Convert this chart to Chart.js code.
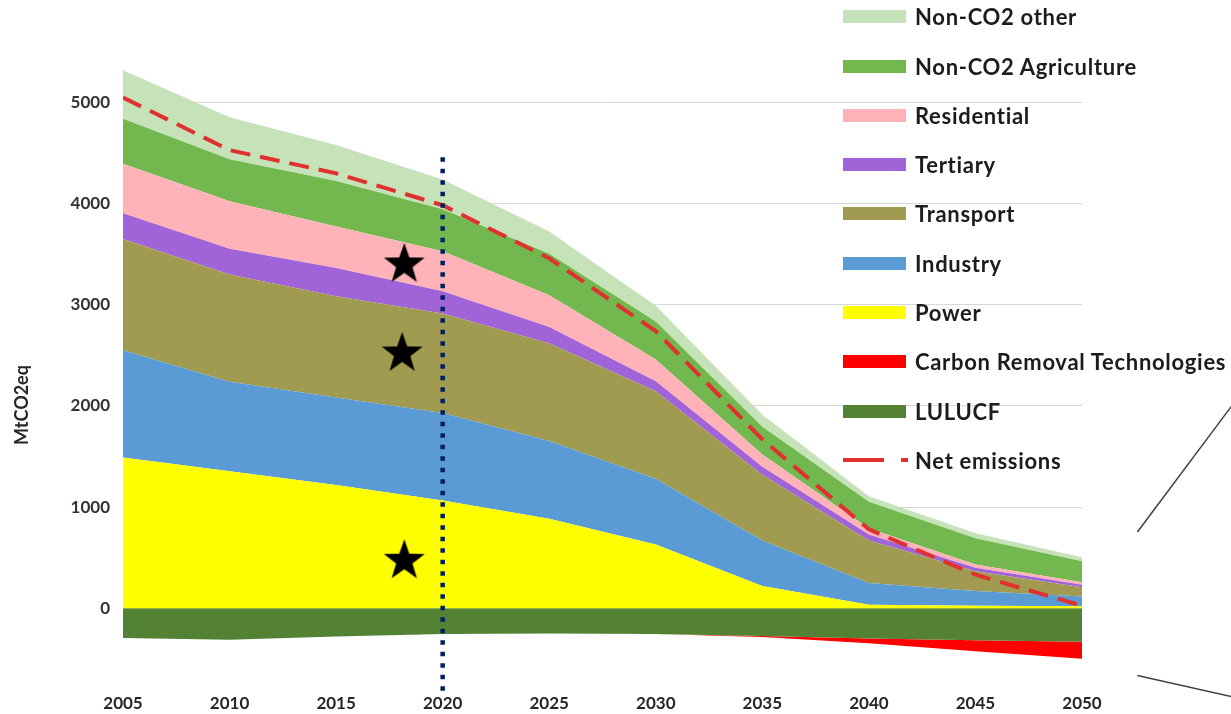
<!DOCTYPE html>
<html><head><meta charset="utf-8">
<script src="https://cdn.jsdelivr.net/npm/chart.js@4/dist/chart.umd.min.js"></script>
<style>
html,body{margin:0;padding:0;background:#fff;}
#wrap{position:relative;width:1231px;height:714px;overflow:hidden;}
#c{position:absolute;left:0;top:0;}
#legend{position:absolute;left:843px;top:0;width:388px;height:480px;font-family:Lato,"Open Sans",sans-serif;font-weight:700;font-size:22px;letter-spacing:0.7px;color:#1c1c1c;}
.row{position:absolute;left:0;height:26px;display:flex;align-items:center;white-space:nowrap;}
.sw{width:63px;height:13px;margin-right:9px;flex:none;}
.dash{width:63px;height:26px;margin-right:9px;position:relative;flex:none;}
.dash i{position:absolute;top:11px;height:4px;background:#e03030;}
</style></head>
<body><div id="wrap"><canvas id="c" width="1231" height="714"></canvas><div id="legend"></div></div>
<script>
// ---- data (MtCO2eq) ----
const years = [2005, 2010, 2015, 2020, 2025, 2030, 2035, 2040, 2045, 2050];
const power        = [1490, 1355, 1220, 1065, 885, 630, 220, 35, 25, 20];
const industry     = [1060, 885, 865, 865, 770, 650, 450, 215, 145, 97];
const transport    = [1100, 1060, 1000, 985, 965, 865, 650, 420, 195, 90];
const tertiary     = [255, 255, 280, 220, 160, 100, 80, 60, 35, 25];
const residential  = [490, 470, 410, 395, 315, 215, 120, 60, 32, 25];
const agriculture  = [445, 415, 450, 415, 410, 375, 275, 263, 260, 207];
const otherNonCO2  = [480, 415, 355, 295, 220, 157, 118, 55, 50, 40];
const lulucf       = [-295, -310, -280, -255, -250, -255, -275, -300, -315, -330];
const carbonRemoval= [0, 0, 0, 0, 0, 0, -10, -45, -110, -170];
const netEmissions = [5050, 4530, 4300, 3985, 3460, 2740, 1670, 780, 332, 25];
const yTickLabels  = [0, 1000, 2000, 3000, 4000, 5000];
const xTickLabels  = ['2005','2010','2015','2020','2025','2030','2035','2040','2045','2050'];
// annotations
const refYear = 2020;
const refLineY = [4460, -820];
const starX = [2018.2, 2018.1, 2018.2];
const starY = [3410, 2530, 480];
const connectorUpperX = [2052.6, 2057.0];
const connectorUpperY = [754, 1994];
const connectorLowerX = [2052.6, 2057.0];
const connectorLowerY = [-665, -873];

const FONT = 'Lato, "Open Sans", sans-serif';
const pts = arr => years.map((y, i) => ({x: y, y: arr[i]}));
const pair = (xs, ys) => xs.map((x, i) => ({x: x, y: ys[i]}));

const series = [
  {label:'Power', data: power, color:'#ffff00'},
  {label:'Industry', data: industry, color:'#5b9bd5'},
  {label:'Transport', data: transport, color:'#a09b50'},
  {label:'Tertiary', data: tertiary, color:'#a064d8'},
  {label:'Residential', data: residential, color:'#ffb3b8'},
  {label:'Non-CO2 Agriculture', data: agriculture, color:'#72b84e'},
  {label:'Non-CO2 other', data: otherNonCO2, color:'#c5e2b8'}
];

const datasets = [];
series.forEach((s, i) => {
  datasets.push({label: s.label, data: pts(s.data), stack:'pos', order: 10,
    backgroundColor: s.color, borderWidth: 0, pointRadius: 0, tension: 0,
    fill: i === 0 ? 'origin' : '-1'});
});
datasets.push({label:'LULUCF', data: pts(lulucf), stack:'neg', order: 10,
  backgroundColor:'#548235', borderWidth:0, pointRadius:0, tension:0, fill:'origin'});
datasets.push({label:'Carbon Removal Technologies', data: pts(carbonRemoval), stack:'neg', order: 10,
  backgroundColor:'#ff0000', borderWidth:0, pointRadius:0, tension:0, fill:'-1'});
datasets.push({label:'Net emissions', data: pts(netEmissions), stack:'net', order: 2,
  borderColor:'#e03030', borderWidth:4, borderDash:[20,10], pointRadius:0, fill:false, tension:0});
datasets.push({label:'ref', data: pair([refYear, refYear], refLineY), stack:'ref', order: 1,
  borderColor:'#002060', borderWidth:4.5, borderDash:[4.5,7], pointRadius:0, fill:false, clip:false});

// star image
const starImg = document.createElement('canvas');
starImg.width = 44; starImg.height = 44;
(function(){
  const g = starImg.getContext('2d');
  g.beginPath();
  for (let k = 0; k < 10; k++) {
    const r = k % 2 === 0 ? 21.5 : 8.6;
    const a = -Math.PI/2 + k * Math.PI/5;
    const px = 22 + r*Math.cos(a), py = 23 + r*Math.sin(a);
    k === 0 ? g.moveTo(px, py) : g.lineTo(px, py);
  }
  g.closePath(); g.fillStyle = '#000'; g.fill();
})();
datasets.push({label:'stars', data: pair(starX, starY), stack:'stars', order: 0,
  showLine:false, pointStyle: starImg, pointRadius: 22, fill:false});
datasets.push({label:'conn1', data: pair(connectorUpperX, connectorUpperY), stack:'c1', order: 3,
  borderColor:'#404040', borderWidth:1.5, pointRadius:0, fill:false, clip:false});
datasets.push({label:'conn2', data: pair(connectorLowerX, connectorLowerY), stack:'c2', order: 3,
  borderColor:'#404040', borderWidth:1.5, pointRadius:0, fill:false, clip:false});

const yTitle = {
  id:'yTitle',
  afterDraw(chart){
    const c = chart.ctx; c.save();
    c.translate(22, 405); c.rotate(-Math.PI/2);
    c.font = '700 18px ' + FONT; c.fillStyle = '#262626';
    c.textAlign = 'center'; c.textBaseline = 'middle';
    c.fillText('MtCO2eq', 0, 0); c.restore();
  }
};

new Chart(document.getElementById('c'), {
  type:'line',
  data:{datasets},
  plugins:[yTitle],
  options:{
    responsive:false, animation:false, devicePixelRatio:1,
    layout:{padding:{top:52, right:149, left:0, bottom:0}},
    plugins:{legend:{display:false}, tooltip:{enabled:false}},
    events:[],
    scales:{
      x:{type:'linear', min:2005, max:2050,
        afterFit(s){ s.height = 24; },
        grid:{display:false, drawTicks:false}, border:{display:false},
        afterBuildTicks(s){ s.ticks = xTickLabels.map(t => ({value: +t})); },
        ticks:{padding:3, autoSkip:false, maxRotation:0, color:'#262626',
          font:{family:FONT, weight:'700', size:17}, callback: v => String(v)}},
      y:{type:'linear', stacked:true, min:-808, max:5500,
        afterFit(s){ s.width = 123; },
        afterBuildTicks(s){ s.ticks = yTickLabels.map(t => ({value: t})); },
        grid:{color:'#d9d9d9', lineWidth:1, drawTicks:false}, border:{display:false},
        ticks:{padding:13, color:'#333333', font:{family:FONT, weight:'700', size:17},
          callback: v => String(v)}}
    }
  }
});

// HTML legend
const legendItems = [
  {label:'Non-CO2 other', color:'#c5e2b8'},
  {label:'Non-CO2 Agriculture', color:'#72b84e'},
  {label:'Residential', color:'#ffb3b8'},
  {label:'Tertiary', color:'#a064d8'},
  {label:'Transport', color:'#a09b50'},
  {label:'Industry', color:'#5b9bd5'},
  {label:'Power', color:'#ffff00'},
  {label:'Carbon Removal Technologies', color:'#ff0000'},
  {label:'LULUCF', color:'#548235'},
  {label:'Net emissions', dashed:true}
];
const lg = document.getElementById('legend');
legendItems.forEach((it, i) => {
  const row = document.createElement('div');
  row.className = 'row';
  row.style.top = (16.7 + 49.3*i - 13) + 'px';
  if (it.dashed) {
    row.innerHTML = '<span class="dash"><i style="left:0;width:41px"></i><i style="left:58px;width:7px"></i></span>';
  } else {
    row.innerHTML = '<span class="sw" style="background:' + it.color + '"></span>';
  }
  const t = document.createElement('span'); t.textContent = it.label; row.appendChild(t);
  lg.appendChild(row);
});
</script>
</body></html>
